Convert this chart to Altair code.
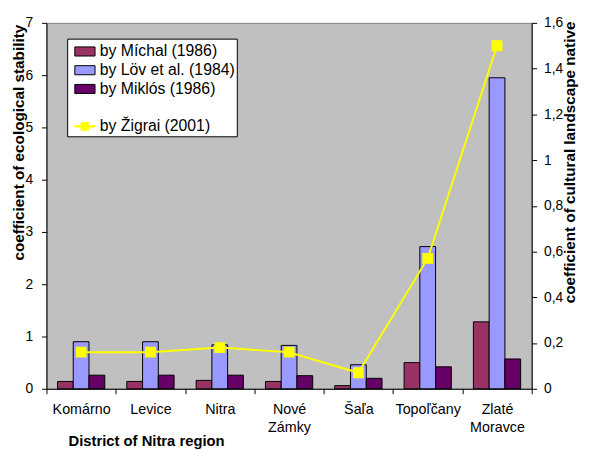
import altair as alt
import pandas as pd

districts = ["Komárno", "Levice", "Nitra", "Nové Zámky", "Šaľa", "Topoľčany", "Zlaté Moravce"]
michal = [0.14, 0.14, 0.16, 0.14, 0.06, 0.50, 1.28]
lov = [0.90, 0.90, 0.84, 0.83, 0.46, 2.72, 5.95]
miklos = [0.26, 0.26, 0.26, 0.25, 0.20, 0.42, 0.57]
zigrai = [0.16, 0.16, 0.18, 0.16, 0.07, 0.57, 1.50]

bar_series = ["\u00a0by Míchal (1986)", "by Löv et al. (1984)", "by Miklós (1986)"]
line_series = "by Žigrai (2001)"
series_names = bar_series + [" ", line_series]
fill_colors = ["#993366", "#9999FF", "#660066", "transparent", "#FFFF00"]
stroke_colors = ["#000000", "#000000", "#000000", "transparent", "#FFFF00"]
RECT = "M-1,-0.45H1V0.45H-1Z"
LINE_MARK = "M-1,-0.06H1V0.06H-1Z M-0.38,-0.38H0.38V0.38H-0.38Z"
legend_shapes = [RECT, RECT, RECT, RECT, LINE_MARK]

rows = []
for name, vals in zip(bar_series, [michal, lov, miklos]):
    for d, v in zip(districts, vals):
        rows.append({"district": d, "series": name, "value": v})
bar_df = pd.DataFrame(rows)
line_df = pd.DataFrame({"district": districts, "value": zigrai})
legend_df = pd.DataFrame({"series": series_names})

FONT = "Liberation Sans"

legend = alt.Legend(
    title=None, orient="none", legendX=21, legendY=16, padding=2,
    symbolOffset=5, symbolSize=420, symbolStrokeWidth=1, symbolOpacity=1,
    labelFont=FONT, labelFontSize=16, labelOffset=4, labelColor="black",
    fillColor="white", strokeColor="black", rowPadding=0, labelLimit=300,
)

fill_scale = alt.Scale(domain=series_names, range=fill_colors)
stroke_scale = alt.Scale(domain=series_names, range=stroke_colors)
shape_scale = alt.Scale(domain=series_names, range=legend_shapes)

x_axis = alt.Axis(
    title="District of Nitra region", titleFont=FONT, titleFontSize=15, titleFontWeight="bold",
    titleX=101, titleY=46, titleAlign="center", titleBaseline="top", titleColor="black",
    tickBand="extent", tickSize=5, tickColor="black", domainColor="black",
    labelFont=FONT, labelFontSize=14.5, labelColor="black", labelAngle=0,
    labelExpr="isValid(datum.value) ? split(datum.value, ' ') : ''",
    labelLineHeight=18, labelPadding=9,
    grid=False,
)

left_axis = alt.Axis(
    orient="left", values=[0, 1, 2, 3, 4, 5, 6, 7],
    title="coefficient of ecological stability", titleFont=FONT, titleFontSize=15.5,
    titleFontWeight="bold", titleAngle=270, titleX=-28, titleY=121, titleAlign="center",
    titleBaseline="middle", titleColor="black",
    tickSize=5, tickColor="black", domainColor="black",
    labelFont=FONT, labelFontSize=14, labelColor="black", labelPadding=9, grid=False,
)

right_axis = alt.Axis(
    orient="right", values=[0, 0.2, 0.4, 0.6, 0.8, 1, 1.2, 1.4, 1.6],
    labelExpr="replace(format(datum.value, '.1~f'), '.', ',')",
    title="coefficient of cultural landscape native", titleFont=FONT, titleFontSize=15.5,
    titleFontWeight="bold", titleAngle=270, titleX=38, titleY=141, titleAlign="center",
    titleBaseline="middle", titleColor="black",
    tickSize=5, tickColor="black", domainColor="black",
    labelFont=FONT, labelFontSize=14, labelColor="black", labelPadding=7, grid=False,
)

hidden = alt.Chart(legend_df).mark_point(filled=True, size=0, opacity=0).encode(
    fill=alt.Fill("series:N", scale=fill_scale, legend=legend),
    stroke=alt.Stroke("series:N", scale=stroke_scale, legend=legend),
    shape=alt.Shape("series:N", scale=shape_scale, legend=legend),
)

bars = alt.Chart(bar_df).mark_bar(stroke="black", strokeWidth=1).encode(
    x=alt.X("district:N", sort=districts, scale=alt.Scale(paddingInner=0, paddingOuter=0), axis=x_axis),
    xOffset=alt.XOffset("series:N", sort=bar_series,
                        scale=alt.Scale(domain=bar_series, paddingInner=0, paddingOuter=0.7)),
    y=alt.Y("value:Q", scale=alt.Scale(domain=[0, 7]), axis=left_axis),
    fill=alt.Fill("series:N", scale=fill_scale, legend=None),
)

line = alt.Chart(line_df).mark_line(
    color="#FFFF00", strokeWidth=2,
    point=alt.OverlayMarkDef(shape="square", size=80, filled=True, fill="#FFFF00", stroke="#FFFF00"),
).encode(
    x=alt.X("district:N", sort=districts, axis=x_axis),
    y=alt.Y("value:Q", scale=alt.Scale(domain=[0, 1.6]), axis=right_axis),
)

chart = alt.layer(hidden, bars, line).resolve_scale(y="independent").properties(
    width=492, height=371,
    autosize=alt.AutoSizeParams(type="none"),
    padding={"left": 39, "top": 12, "right": 50, "bottom": 59},
    background="white",
).configure_view(fill="#C0C0C0", stroke="#808080")

chart.save("out.html", embed_options={"renderer": "svg", "actions": False})
